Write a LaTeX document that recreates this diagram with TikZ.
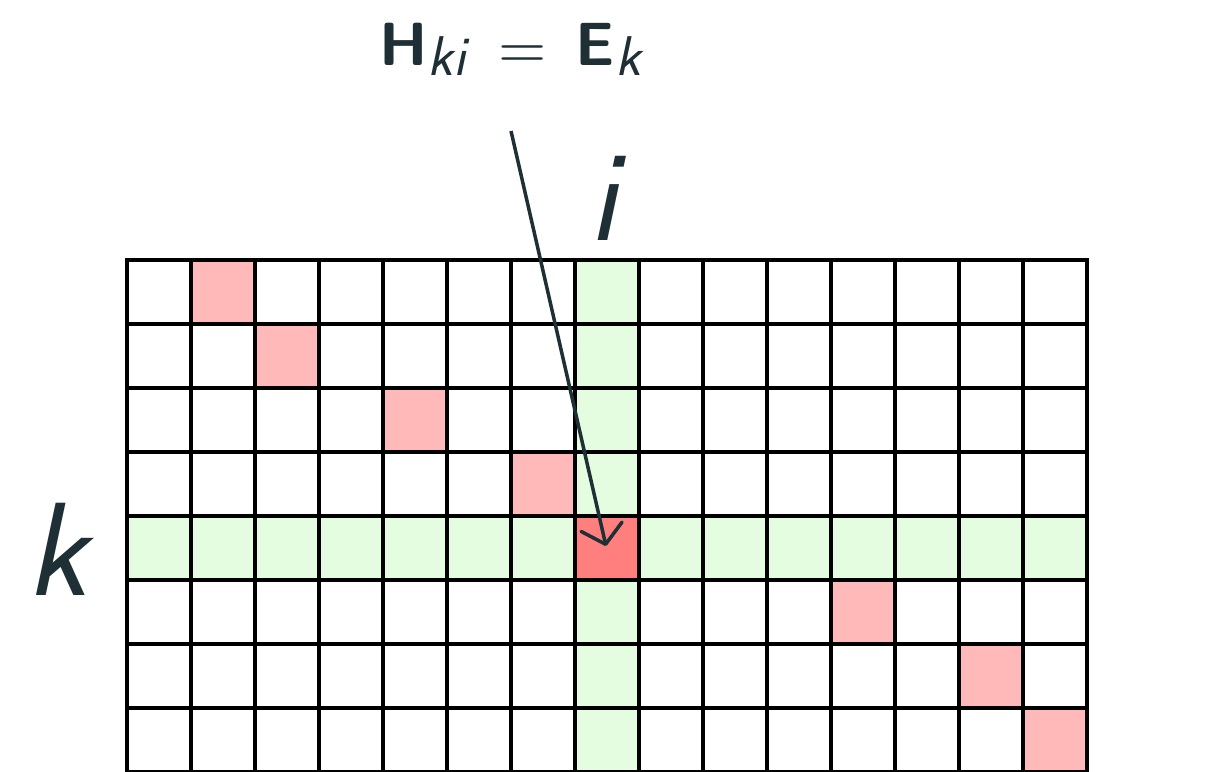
\documentclass[tikz,border=0pt]{standalone}
\usepackage{fontspec}
\usetikzlibrary{arrows.meta}
\definecolor{ink}{HTML}{1E2F35}
\definecolor{pinkc}{HTML}{FFB9B9}
\definecolor{redc}{HTML}{FF7F7F}
\definecolor{greenc}{HTML}{E4FCE0}
\tikzset{
  gridline/.style={draw=black, line width=3.6pt, line cap=rect},
  lbl/.style={text=ink, inner sep=0pt},
  pointer/.style={draw=ink, line width=3.5pt, -{Straight Barb[length=18pt,width=42pt,line width=3.5pt,round]}}
}
\begin{document}
\begin{tikzpicture}[x=1pt,y=-1pt]
\useasboundingbox (0,0) rectangle (1231,771);
\clip (0,0) rectangle (1231,771);
% green row and column
\foreach \c in {0,...,14} \fill[greenc] (127+64*\c,260+64*4) rectangle ++(64,64);
\foreach \r in {0,...,7} \fill[greenc] (127+64*7,260+64*\r) rectangle ++(64,64);
% pink cells
\foreach \c/\r in {1/0,2/1,4/2,6/3,11/5,13/6,14/7}
  \fill[pinkc] (127+64*\c,260+64*\r) rectangle ++(64,64);
\fill[redc] (127+64*7,260+64*4) rectangle ++(64,64);
% grid
\foreach \c in {0,...,15} \draw[gridline] (127+64*\c,260) -- (127+64*\c,772);
\foreach \r in {0,...,8} \draw[gridline] (127,260+64*\r) -- (1087,260+64*\r);
% labels
\node[lbl, anchor=base west, font=\sffamily\fontsize{61}{61}\selectfont] (title) at (379,65)
  {\textbf{H}\raisebox{-10pt}{\fontsize{56}{56}\selectfont\itshape ki}\hspace{33pt}\raisebox{-3pt}{\scalebox{6.2}{\normalsize$=$}}\hspace{29pt}\textbf{E}\raisebox{-10pt}{\fontsize{56}{56}\selectfont\itshape k}};
\node[lbl, anchor=base west, font=\sffamily\itshape\fontsize{133}{133}\selectfont] (klbl) at (26,595) {k};
\node[lbl, anchor=base west, font=\sffamily\itshape\fontsize{130}{130}\selectfont] (ilbl) at (588,240) {i};
% arrow
\coordinate (a0) at (511,131);
\coordinate (a1) at (606,546);
\draw[pointer] (a0) -- (a1);
\end{tikzpicture}
\end{document}
